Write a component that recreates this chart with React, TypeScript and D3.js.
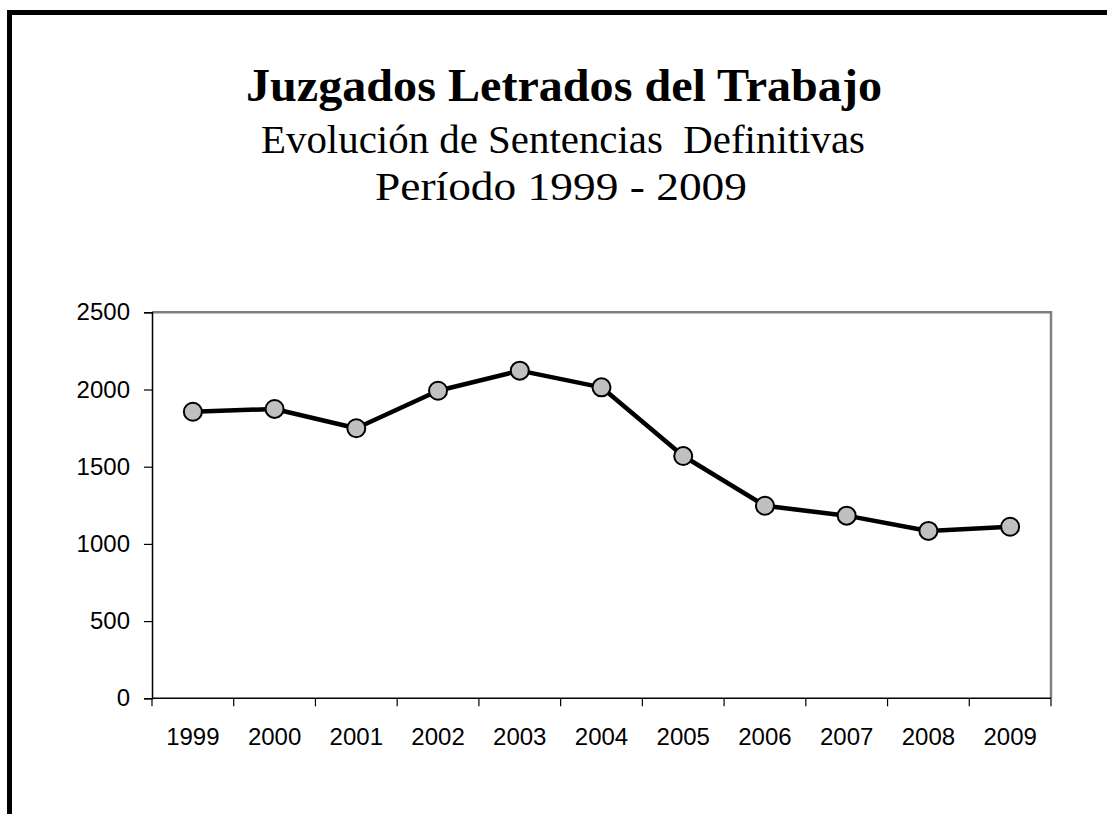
import React, { useRef, useEffect } from 'react';
import * as d3 from 'd3';

// Data
const years = ['1999', '2000', '2001', '2002', '2003', '2004', '2005', '2006', '2007', '2008', '2009'];
const sentencias = [1856, 1874, 1749, 1992, 2122, 2014, 1569, 1247, 1183, 1084, 1111];
const yTicks = [0, 500, 1000, 1500, 2000, 2500];

const W = 1107;
const H = 814;

const App = () => {
  const ref = useRef<SVGSVGElement>(null);

  useEffect(() => {
    const svg = d3.select(ref.current);
    svg.selectAll('*').remove();

    // plot area
    const left = 152;
    const right = 1051;
    const top = 312.3;
    const bottom = 698.3;

    // outer frame (right and bottom edges fall outside the picture)
    svg.append('rect')
      .attr('x', 9.5).attr('y', 12.5)
      .attr('width', W + 20).attr('height', H + 20)
      .attr('fill', 'none')
      .attr('stroke', '#000')
      .attr('stroke-width', 5);

    // titles
    const serif = '"Liberation Serif", "Times New Roman", serif';
    svg.append('text')
      .attr('x', 564).attr('y', 101)
      .attr('text-anchor', 'middle')
      .attr('font-family', serif)
      .attr('font-weight', 'bold')
      .attr('font-size', 46)
      .attr('textLength', 636)
      .attr('lengthAdjust', 'spacingAndGlyphs')
      .text('Juzgados Letrados del Trabajo');
    svg.append('text')
      .attr('x', 563).attr('y', 153)
      .attr('text-anchor', 'middle')
      .attr('font-family', serif)
      .attr('font-size', 39)
      .attr('textLength', 604)
      .attr('lengthAdjust', 'spacingAndGlyphs')
      .style('white-space', 'pre')
      .text('Evolución de Sentencias  Definitivas');
    svg.append('text')
      .attr('x', 561).attr('y', 200)
      .attr('text-anchor', 'middle')
      .attr('font-family', serif)
      .attr('font-size', 41)
      .attr('textLength', 372)
      .attr('lengthAdjust', 'spacingAndGlyphs')
      .text('Período 1999 - 2009');

    const x = d3.scaleBand().domain(years).range([left, right]).padding(0);
    const y = d3.scaleLinear().domain([0, 2500]).range([bottom, top]);

    // gray plot border (top and right)
    svg.append('path')
      .attr('d', `M${left},${top}H${right}V${bottom}`)
      .attr('fill', 'none')
      .attr('stroke', '#808080')
      .attr('stroke-width', 2.5);

    // y axis
    const yAxis = svg.append('g')
      .attr('transform', `translate(${left},0)`)
      .call(d3.axisLeft(y).tickValues(yTicks).tickSize(8).tickPadding(14).tickFormat(d3.format('d')));
    yAxis.select('.domain').attr('stroke', '#000').attr('stroke-width', 1.5);
    yAxis.selectAll('.tick line').attr('stroke', '#000').attr('stroke-width', 1.2);
    yAxis.selectAll('.tick text')
      .attr('font-family', '"Liberation Sans", Arial, sans-serif')
      .attr('font-size', 24)
      .attr('fill', '#000');

    // x axis with ticks on category boundaries
    const xAxis = svg.append('g').attr('transform', `translate(0,${bottom})`);
    xAxis.append('line')
      .attr('x1', left).attr('x2', right)
      .attr('stroke', '#000').attr('stroke-width', 1.5);
    const bounds = years.map(d => x(d) as number).concat([right]);
    xAxis.selectAll('.tk')
      .data(bounds)
      .enter()
      .append('line')
      .attr('x1', d => d).attr('x2', d => d)
      .attr('y1', 0).attr('y2', 8)
      .attr('stroke', '#000').attr('stroke-width', 1.2);
    xAxis.selectAll('.lbl')
      .data(years)
      .enter()
      .append('text')
      .attr('x', d => (x(d) as number) + x.bandwidth() / 2)
      .attr('y', 47)
      .attr('text-anchor', 'middle')
      .attr('font-family', '"Liberation Sans", Arial, sans-serif')
      .attr('font-size', 24)
      .attr('fill', '#000')
      .text(d => d);

    const pts = years.map((d, i) => [(x(d) as number) + x.bandwidth() / 2, y(sentencias[i])] as [number, number]);

    // line
    svg.append('path')
      .attr('d', d3.line()(pts))
      .attr('fill', 'none')
      .attr('stroke', '#000')
      .attr('stroke-width', 4.5)
      .attr('stroke-linejoin', 'round');

    // markers
    svg.selectAll('.pt')
      .data(pts)
      .enter()
      .append('circle')
      .attr('cx', d => d[0])
      .attr('cy', d => d[1])
      .attr('r', 9)
      .attr('fill', '#c0c0c0')
      .attr('stroke', '#000')
      .attr('stroke-width', 2);
  }, []);

  return (
    <svg ref={ref} width={W} height={H}
      style={{ position: 'absolute', left: 0, top: 0, background: '#fff', display: 'block' }} />
  );
};

export default App;
